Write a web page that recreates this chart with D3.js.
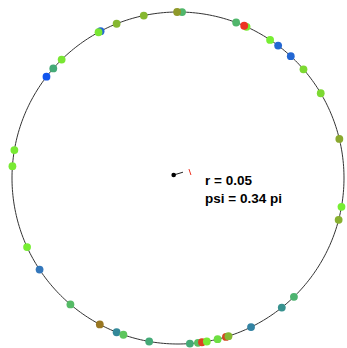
<!DOCTYPE html>
<html>
<head>
<meta charset="utf-8">
<script src="https://cdn.jsdelivr.net/npm/d3@7"></script>
<style>
html,body{margin:0;padding:0;background:#fff;}
svg{display:block;}
</style>
</head>
<body>
<div id="chart"></div>
<script>
// Angles of the points on the unit circle (degrees, counter-clockwise from east)
const angles = [
  88.6, 90.3, 101.9, 111.7, 117.8, 118.6, 134.5, 138.7, 142.4,
  170.3, 175.9, 204.6, 213.5, 229.6, 241.9, 248.3, 250.8, 260.0,
  274.1, 276.9, 278.3, 280.0, 283.8, 286.8, 287.7, 296.1, 308.7, 314.3,
  345.4, 350.0, 13.6, 30.7, 40.9, 47.2, 52.9, 56.3, 65.6, 66.5, 69.5
];
// Value of each point (drives its colour)
const values = [
  0.42, 0.76, 0.68, 0.68, 0.08, 0.57, 0.57, 0.35, 0.0,
  0.56, 0.56, 0.55, 0.15, 0.45, 0.85, 0.25, 0.47, 0.35,
  0.35, 0.46, 0.97, 0.56, 0.52, 0.95, 0.68, 0.22, 0.28, 0.40,
  0.70, 0.55, 0.72, 0.60, 0.60, 0.08, 0.08, 0.55, 0.56, 1.0, 0.42
];
// Mean resultant marker (data units on the unit circle)
const meanDot = [-0.026, 0.018];
const meanLine = [[-0.026, 0.018], [0.030, 0.035]];
const redTick = [[0.066, 0.054], [0.078, 0.018]];
const labels = ["r = 0.05", "psi = 0.34 pi"];

const W = 347, H = 348;
const cx = 178, cy = 178, R = 166;
const x = d3.scaleLinear().domain([-1, 1]).range([cx - R, cx + R]);
const y = d3.scaleLinear().domain([-1, 1]).range([cy + R, cy - R]);

const color = d3.scaleLinear()
  .domain([0, 0.15, 0.25, 0.35, 0.45, 0.55, 0.7, 0.85, 1])
  .range(["#1155ee", "#3377bb", "#338899", "#44aa77", "#55bb66", "#77ee33", "#88b030", "#997722", "#ee3322"])
  .interpolate(d3.interpolateRgb);

const svg = d3.select("#chart").append("svg").attr("width", W).attr("height", H);

const circ = d3.range(0, 361, 1).map(a => [Math.cos(a * Math.PI / 180), Math.sin(a * Math.PI / 180)]);
svg.append("path")
  .attr("d", d3.line().x(d => x(d[0])).y(d => y(d[1]))(circ))
  .attr("fill", "none").attr("stroke", "#333").attr("stroke-width", 1);

svg.append("g").selectAll("circle").data(angles).join("circle")
  .attr("cx", a => x(Math.cos(a * Math.PI / 180)))
  .attr("cy", a => y(Math.sin(a * Math.PI / 180)))
  .attr("r", 3.9)
  .attr("fill", (a, i) => color(values[i]));

svg.append("path")
  .attr("d", d3.line().x(d => x(d[0])).y(d => y(d[1]))(meanLine))
  .attr("stroke", "#222").attr("stroke-width", 1);
svg.append("circle").attr("cx", x(meanDot[0])).attr("cy", y(meanDot[1])).attr("r", 2.3).attr("fill", "#000");
svg.append("path")
  .attr("d", d3.line().x(d => x(d[0])).y(d => y(d[1]))(redTick))
  .attr("stroke", "#ee3322").attr("stroke-width", 1);

svg.append("g").selectAll("text").data(labels).join("text")
  .attr("x", 205).attr("y", (d, i) => 185 + i * 18)
  .attr("font-family", "Liberation Sans, Arial, sans-serif")
  .attr("font-size", 13.5).attr("font-weight", "bold")
  .attr("fill", "#000")
  .text(d => d);
</script>
</body>
</html>
